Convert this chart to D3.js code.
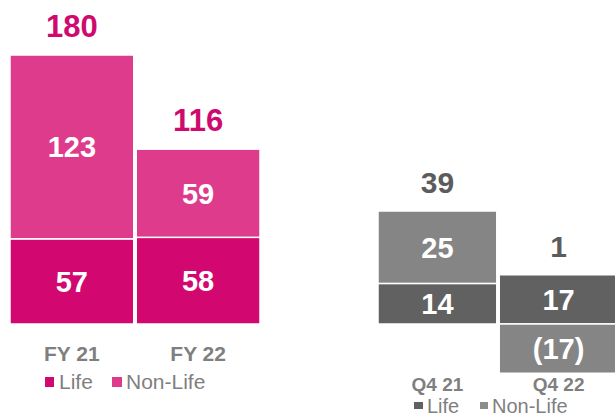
<!DOCTYPE html>
<html>
<head>
<meta charset="utf-8">
<script src="https://cdn.jsdelivr.net/npm/d3@7"></script>
<style>
  html, body { margin: 0; padding: 0; background: #fff; }
  svg { display: block; font-family: "Liberation Sans", Arial, sans-serif; }
</style>
</head>
<body>
<svg id="chart" width="615" height="418"></svg>
<script>
// ---- data ----
const seriesNames = ["Life", "Non-Life"];
const fyCategories = ["FY 21", "FY 22"];
const fyLife = [57, 58];
const fyNonLife = [123, 59];
const fyTotals = [180, 116];
const q4Categories = ["Q4 21", "Q4 22"];
const q4Life = [14, 17];
const q4NonLife = [25, -17];
const q4Totals = [39, 1];

const svg = d3.select("#chart");

function drawPanel(cfg) {
  const rows = cfg.categories.map((c, i) => ({ cat: c, "Life": cfg.life[i], "Non-Life": cfg.nonLife[i], total: cfg.totals[i] }));
  const stack = d3.stack().keys(seriesNames).offset(d3.stackOffsetDiverging);
  const layers = stack(rows);
  const x = d3.scaleBand().domain(cfg.categories).range(cfg.xRange).paddingInner(0.02).paddingOuter(0);
  const y = d3.scaleLinear().domain(cfg.yDomain).range(cfg.yRange);
  const color = d3.scaleOrdinal().domain(seriesNames).range(cfg.colors);
  const g = svg.append("g");

  const layerG = g.selectAll("g.layer").data(layers).join("g").attr("class", "layer")
    .attr("fill", d => color(d.key));
  layerG.selectAll("rect").data(d => d).join("rect")
    .attr("x", d => x(d.data.cat))
    .attr("width", x.bandwidth())
    .attr("y", d => y(d[1]))
    .attr("height", d => y(d[0]) - y(d[1]))
    .attr("stroke", "#fff")
    .attr("stroke-width", 1.5);

  const fs = cfg.innerFont;
  layerG.selectAll("text").data(d => d.map(s => ({ s, key: d.key }))).join("text")
    .attr("x", d => x(d.s.data.cat) + x.bandwidth() / 2)
    .attr("y", d => (y(d.s[0]) + y(d.s[1])) / 2 + fs * 0.36)
    .attr("text-anchor", "middle")
    .attr("fill", "#fff")
    .attr("font-weight", "bold")
    .attr("font-size", fs + "px")
    .text(d => { const v = d.s.data[d.key]; return v < 0 ? "(" + (-v) + ")" : v; });

  // totals
  g.selectAll("text.total").data(rows).join("text").attr("class", "total")
    .attr("x", d => x(d.cat) + x.bandwidth() / 2)
    .attr("y", d => y(Math.max(d["Life"], 0) + Math.max(d["Non-Life"], 0)) - 18)
    .attr("text-anchor", "middle")
    .attr("fill", cfg.totalColor)
    .attr("font-weight", "bold")
    .attr("font-size", cfg.totalFont + "px")
    .text(d => d.total);

  // category axis labels
  const axis = d3.axisBottom(x).tickSize(0).tickPadding(0);
  const ax = g.append("g").attr("transform", `translate(0,${cfg.catY})`).call(axis)
    .attr("font-family", null).attr("font-size", null);
  ax.select(".domain").remove();
  ax.selectAll("text")
    .attr("dy", null).attr("y", 0)
    .attr("fill", "#7f7f7f")
    .attr("font-weight", "bold")
    .attr("font-size", cfg.catFont + "px");

  // legend
  const lg = g.append("g");
  cfg.legend.forEach((it, i) => {
    lg.append("rect").attr("x", it.mx).attr("y", cfg.legendY - it.mh - it.mOff)
      .attr("width", it.mw).attr("height", it.mh).attr("fill", cfg.legendColors[i]);
    lg.append("text").attr("x", it.tx).attr("y", cfg.legendY)
      .attr("fill", "#7f7f7f").attr("font-size", cfg.legendFont + "px").text(seriesNames[i]);
  });
}

drawPanel({
  categories: fyCategories, life: fyLife, nonLife: fyNonLife, totals: fyTotals,
  xRange: [10, 260], yDomain: [0, 180], yRange: [324, 55],
  colors: ["#d2076f", "#de3b8c"], totalColor: "#cf0a6f",
  innerFont: 29, totalFont: 31, catFont: 21, catY: 361,
  legendY: 389, legendFont: 21, legendColors: ["#d2076f", "#de3b8c"],
  legend: [ { mx: 45, mw: 9, mh: 10, mOff: 2, tx: 59 }, { mx: 112, mw: 10, mh: 10, mOff: 2, tx: 126 } ]
});

drawPanel({
  categories: q4Categories, life: q4Life, nonLife: q4NonLife, totals: q4Totals,
  xRange: [378, 618], yDomain: [0, 39], yRange: [324, 211],
  colors: ["#616161", "#858585"], totalColor: "#5c5c5c",
  innerFont: 29, totalFont: 30, catFont: 19, catY: 391,
  legendY: 413, legendFont: 20, legendColors: ["#616161", "#8c8c8c"],
  legend: [ { mx: 414, mw: 9, mh: 7, mOff: 4, tx: 427 }, { mx: 480, mw: 8, mh: 7, mOff: 4, tx: 492 } ]
});
</script>
</body>
</html>
